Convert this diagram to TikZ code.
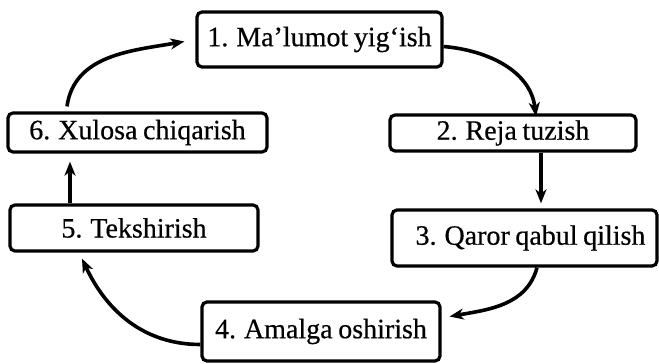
\documentclass[tikz,border=0pt]{standalone}
\usepackage{fontspec}
\setmainfont{Liberation Serif}
\newfontfamily\heavyserif{Liberation Serif}[FakeBold=0.5,WordSpace=0.8]
\usetikzlibrary{arrows.meta}
\begin{document}
\begin{tikzpicture}[x=1pt,y=1pt,
  stepbox/.style={draw, line width=3.2pt, rounded corners=5pt, inner sep=0pt,
    font=\heavyserif\fontsize{28}{30}\selectfont, fill=white},
  conn/.style={line width=3.6pt, -{Stealth[length=14pt,width=11pt,inset=4pt]}}]
\useasboundingbox (0,0) rectangle (659,364);
\node[stepbox, minimum width=245, minimum height=55] (b1) at (319.5,324.5) {1. Ma’lumot yig‘ish};
\node[stepbox, minimum width=246, minimum height=36] (b2) at (513,231) {2. Reja tuzish\hspace{10pt}};
\node[stepbox, minimum width=265, minimum height=56] (b3) at (524.5,126) {\hspace{12pt}3. Qaror qabul qilish};
\node[stepbox, minimum width=238, minimum height=59] (b4) at (321,32.5) {4. Amalga oshirish};
\node[stepbox, minimum width=248, minimum height=46] (b5) at (134,136) {5. Tekshirish};
\node[stepbox, minimum width=259, minimum height=39] (b6) at (137.5,231.5) {6. Xulosa chiqarish\hspace{14pt}};
\draw[conn] ([yshift=-7]b1.east) to[out=-5,in=97] ([xshift=23,yshift=-3]b2.north);
\draw[conn] ([xshift=28]b2.south) -- ([xshift=16.5,yshift=5]b3.north);
\draw[conn] ([xshift=12.5]b3.south) to[out=-105,in=10] ([xshift=8,yshift=15]b4.east);
\draw[conn] ([yshift=-13]b4.west) to[out=180,in=-65] ([xshift=-52,yshift=-6]b5.south);
\draw[conn] ([xshift=-64]b5.north) -- ([xshift=-67.5,yshift=-8]b6.south);
\draw[conn] ([xshift=-70.5,yshift=5]b6.north) to[out=82,in=190] ([xshift=-11,yshift=-2]b1.west);
\end{tikzpicture}
\end{document}
